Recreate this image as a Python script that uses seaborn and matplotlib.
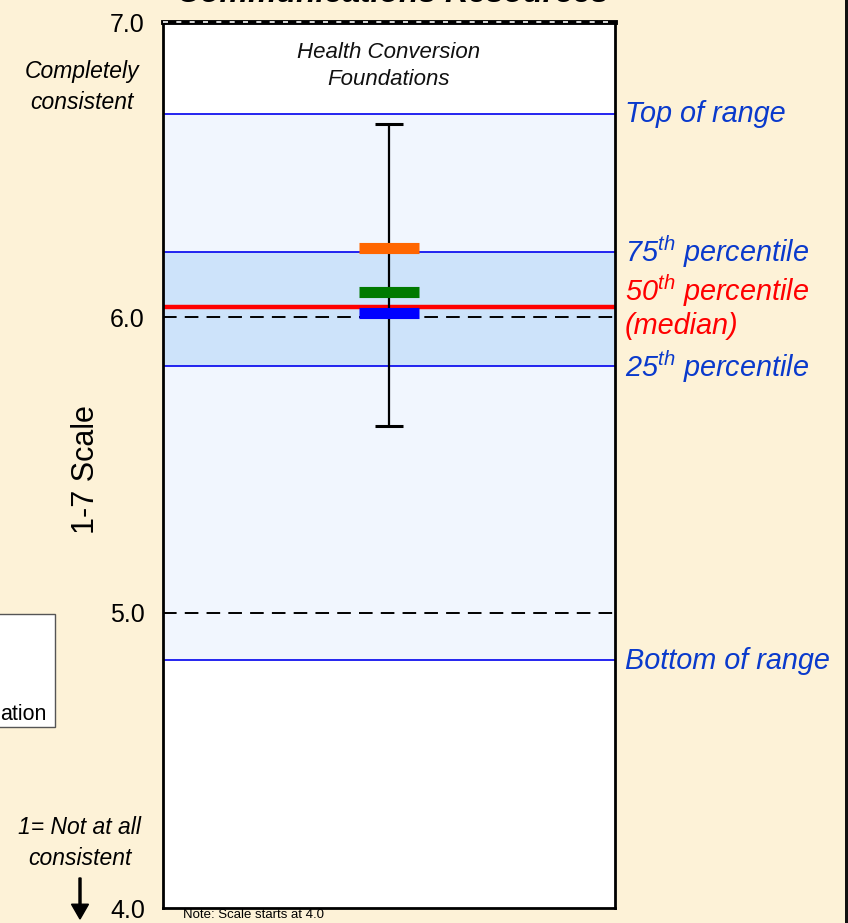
import matplotlib
matplotlib.use("Agg")
import matplotlib.pyplot as plt
import seaborn as sns
import pandas as pd
from matplotlib.patches import Rectangle, FancyArrow

# ---- data -------------------------------------------------------------
band_labels = ["Top of range", "75th percentile", "50th percentile", "25th percentile", "Bottom of range"]
band_values = [6.69, 6.22, 6.035, 5.835, 4.84]

whisker_low = 5.632
whisker_high = 6.655

marker_names = ["Series 1", "Series 2", "Series 3"]
marker_values = [6.235, 6.086, 6.015]
marker_colors = ["#FF6600", "#007A00", "#0000FF"]

category = ["Health Conversion\nFoundations"]
ytick_values = [4.0, 5.0, 6.0, 7.0]
ytick_labels = ["4.0", "5.0", "6.0", "7.0"]

# ---- style ------------------------------------------------------------
sns.set_theme(style="white")
plt.rcParams["font.family"] = ["Liberation Sans", "DejaVu Sans"]
plt.rcParams["text.color"] = "black"
plt.rcParams["ytick.color"] = "black"
plt.rcParams["mathtext.fontset"] = "custom"
plt.rcParams["mathtext.it"] = "Liberation Sans:italic"
plt.rcParams["mathtext.rm"] = "Liberation Sans"

BG = "#FDF2D7"
BLUE_TXT = "#0A3ACC"
W, H = 848, 923
fig = plt.figure(figsize=(W / 100, H / 100), dpi=100, facecolor=BG)

def fx(px):
    return px / W

def fy(py):
    return 1 - py / H

ax = fig.add_axes([fx(163), fy(908), fx(615) - fx(163), fy(22) - fy(908)])
ax.set_facecolor("white")
ax.set_xlim(-0.5, 0.5)
ax.set_ylim(4.0, 7.0)

top, p75, p50, p25, bottom = band_values

# range bands
ax.axhspan(bottom, top, color="#F1F6FE", lw=0, zorder=0)
ax.axhspan(p25, p75, color="#CDE3FA", lw=0, zorder=0.5)
for v in (top, p75, p25, bottom):
    ax.axhline(v, color="#0000EE", lw=1.2, zorder=1)

# reference dashes at whole scale points
for v in (5.0, 6.0):
    ax.axhline(v, color="black", lw=1.4, linestyle=(0, (7, 4.2)), zorder=1.5)

# median line
ax.axhline(p50, color="#FF0000", lw=3.2, zorder=2)

# whisker (min to max)
ax.vlines(0, whisker_low, whisker_high, color="black", lw=1.6, zorder=3)
ax.hlines([whisker_low, whisker_high], -0.032, 0.032, color="black", lw=2.2, zorder=3)

# group markers
df = pd.DataFrame({"x": [0.0] * len(marker_values), "y": marker_values, "group": marker_names})
sns.scatterplot(data=df, x="x", y="y", hue="group", palette=dict(zip(marker_names, marker_colors)),
                marker="_", s=1866, linewidth=8.0, legend=False, ax=ax, zorder=4)

ax.text(0, 6.851, category[0], ha="center", va="center", fontsize=16, style="italic",
        linespacing=1.4, color="#111111")

# axes frame
ax.set_xticks([])
ax.set_xlabel("")
ax.set_ylabel("")
ax.set_yticks(ytick_values)
ax.set_yticklabels(ytick_labels, fontsize=18)
ax.tick_params(axis="y", length=0, pad=13)
for s in ax.spines.values():
    s.set_visible(True)
    s.set_color("black")
    s.set_linewidth(2.0)
ax.spines["top"].set_linewidth(3.5)
ax.axhline(7.0, color="white", lw=1.2, linestyle=(0, (3, 5)), zorder=6, clip_on=False)

# right-hand band labels
lab_kw = dict(ha="left", va="center", fontsize=20.8, style="italic")
fig.text(fx(625), fy(114), "Top of range", color=BLUE_TXT, **lab_kw)
fig.text(fx(625), fy(252), "75$^{th}$ percentile", color=BLUE_TXT, **lab_kw)
fig.text(fx(625), fy(291), "50$^{th}$ percentile", color="#FF0000", **lab_kw)
fig.text(fx(625), fy(326), "(median)", color="#FF0000", **lab_kw)
fig.text(fx(625), fy(367), "25$^{th}$ percentile", color=BLUE_TXT, **lab_kw)
fig.text(fx(625), fy(661), "Bottom of range", color=BLUE_TXT, **lab_kw)

# left-hand annotations
fig.text(fx(86), fy(470), "1-7 Scale", rotation=90, ha="center", va="center", fontsize=22)
fig.text(fx(82), fy(87), "Completely\nconsistent", ha="center", va="center", fontsize=16.5,
         style="italic", linespacing=1.4)
fig.text(fx(80), fy(843), "1= Not at all\nconsistent", ha="center", va="center", fontsize=16.5,
         style="italic", linespacing=1.4)
fig.add_artist(FancyArrow(fx(80), fy(878), 0, fy(919) - fy(878), width=0.0024,
                          head_width=0.02, head_length=0.016, length_includes_head=True,
                          color="black", transform=fig.transFigure))

fig.text(fx(183), fy(915), "Note: Scale starts at 4.0", ha="left", va="center", fontsize=9.5)

# chart title (partly above the page edge)
fig.text(fx(393), fy(2), "Communications Resources", ha="center", va="baseline",
         fontsize=23, weight="bold", style="italic")

# legend panel on the far left
fig.add_artist(Rectangle((fx(-60), fy(727)), fx(115), fy(614) - fy(727), facecolor="white",
                         edgecolor="#555555", lw=1.0, transform=fig.transFigure))
fig.text(fx(0), fy(715), "ation", ha="left", va="center", fontsize=15.5)

# dark frame edge on the right
fig.add_artist(Rectangle((fx(845), 0), fx(3), 1, facecolor="#111111", edgecolor="none",
                         transform=fig.transFigure))

fig.savefig("out.png", dpi=100, facecolor=BG)
